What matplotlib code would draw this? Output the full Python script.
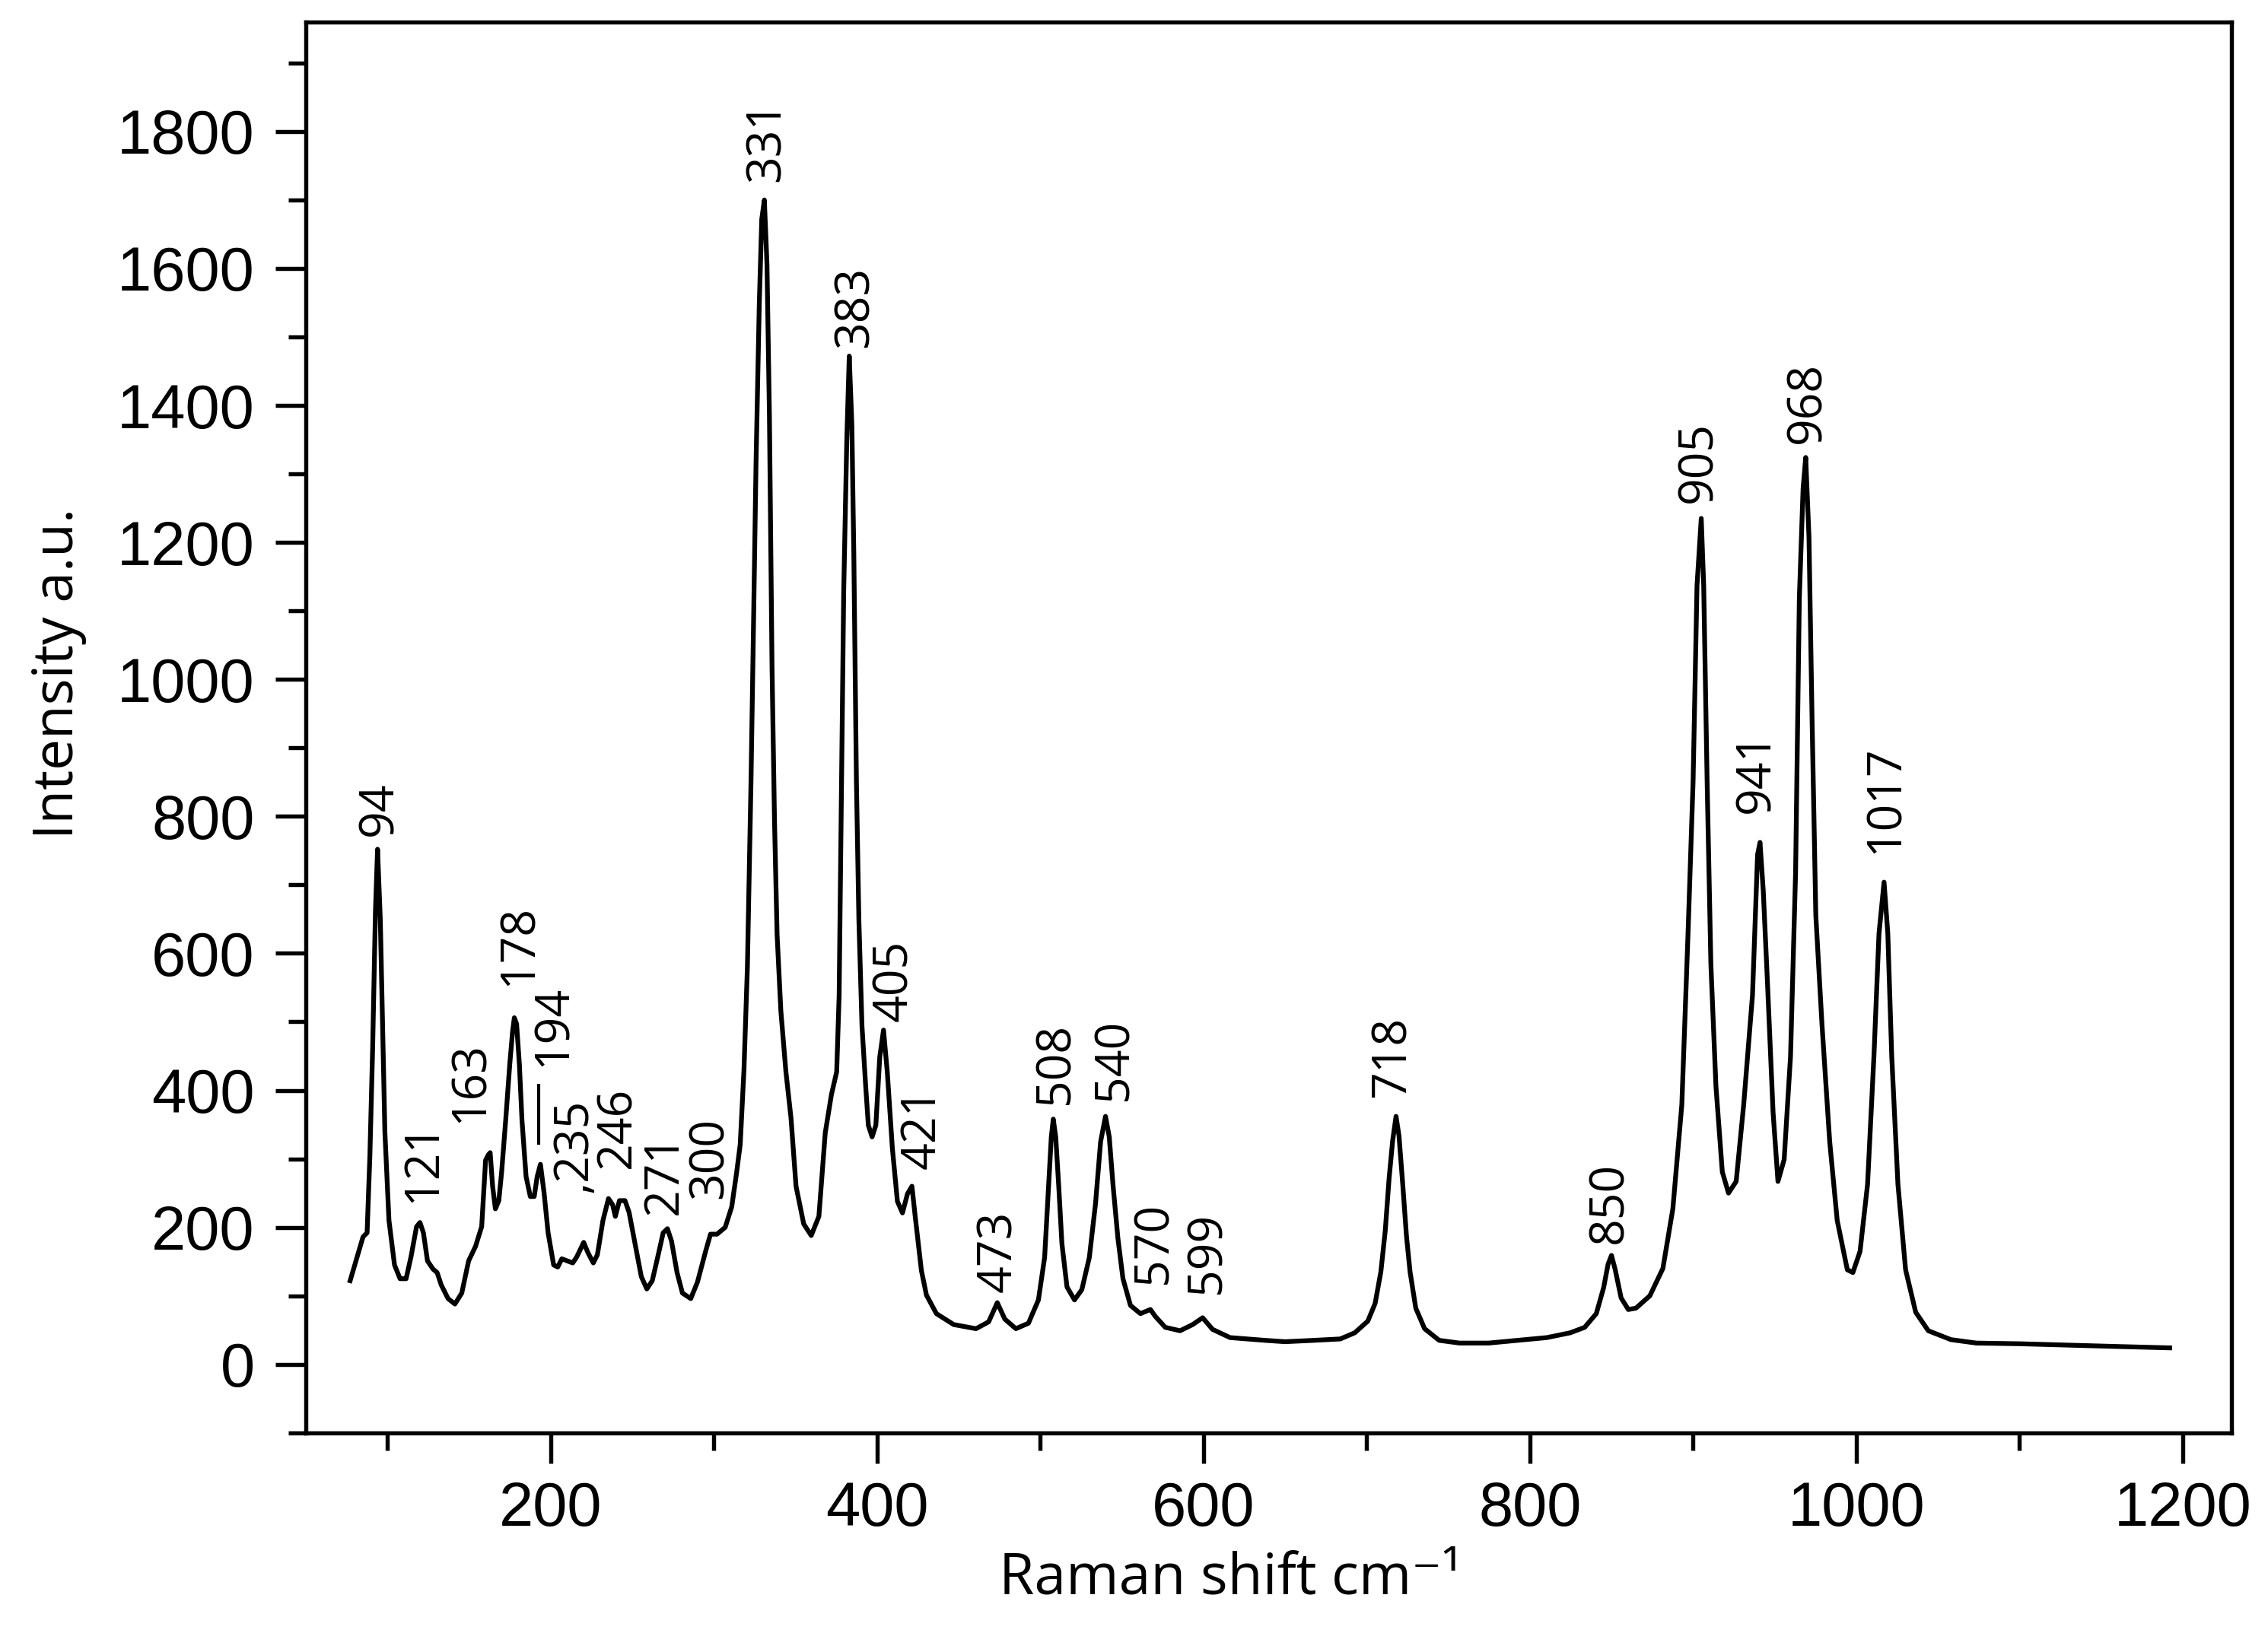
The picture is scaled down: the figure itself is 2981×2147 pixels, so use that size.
import matplotlib
matplotlib.use("Agg")
import matplotlib.pyplot as plt
from matplotlib.ticker import MultipleLocator

# ---- spectrum (Raman shift, intensity) ----
shift = [77.2, 85.1, 87.6, 89.3, 91.0, 92.7, 94.0, 95.7, 97.4, 98.5, 101.0, 104.4,
         107.8, 111.5, 114.5, 117.9, 120.0, 122.1, 124.6, 128.0, 130.5, 133.0, 137.2,
         141.4, 145.6, 149.8, 154.0, 157.8, 160.2, 161.9, 163.0, 164.5, 166.2, 168.3,
         170.0, 172.5, 175.0, 176.7, 177.8, 179.2, 180.9, 182.5, 185.0, 187.6, 190.0,
         191.8, 193.8, 196.0, 198.5, 201.9, 204.4, 206.9, 210.3, 213.6, 216.1, 220.3,
         222.9, 226.2, 228.7, 232.1, 235.5, 238.0, 239.7, 242.2, 245.6, 248.1, 252.3,
         255.6, 259.0, 262.3, 265.7, 269.0, 271.6, 274.1, 277.5, 280.8, 285.9, 290.0,
         295.0, 298.0, 302.0, 307.0, 311.0, 314.0, 316.2, 318.5, 320.6,
         322.8, 324.3, 325.9, 327.9, 329.4, 331.0, 332.6, 334.1, 335.7, 337.2, 338.8,
         341.1, 344.2, 347.3, 350.4, 355.1, 359.7, 364.4, 368.3, 372.1, 375.3, 376.8,
         378.0, 379.6, 381.5, 383.0, 384.6, 385.8, 387.4, 388.9, 390.8, 393.1, 394.7,
         397.0, 399.3, 401.7, 404.0, 406.3, 409.4, 412.5, 415.6, 418.7, 421.4, 423.4,
         427.2, 430.3, 436.4, 447.0, 460.7, 468.4, 473.7, 478.3, 485.1, 492.8, 498.9,
         502.7, 505.0, 506.8, 508.0, 509.5, 511.3, 513.3, 516.4, 521.0, 525.5, 530.1,
         533.9, 537.0, 540.0, 542.3, 544.6, 547.6, 550.7, 555.3, 561.4, 567.5, 570.5,
         576.6, 585.7, 593.4, 599.5, 605.6, 616.3, 637.6,
         650.0, 667.7, 683.8, 692.7, 700.7, 705.2, 708.7, 711.4, 713.7, 715.9, 718.0,
         719.8, 722.1, 724.4, 726.6, 730.1, 735.5, 744.4, 756.9, 774.7, 792.6, 810.4,
         824.7, 833.6, 840.7, 845.2, 847.9, 850.0, 852.3, 855.9, 860.3, 865.0, 873.5,
         881.5, 887.6, 893.1, 896.9, 900.0, 902.4, 905.0, 906.5, 908.6, 910.9, 914.0,
         917.9, 921.7, 926.4, 931.0, 936.4, 939.5, 941.0, 943.0, 945.5, 949.0, 952.0,
         955.8, 959.7, 962.8, 965.1, 967.4, 969.0, 971.0, 972.9, 975.2, 979.0, 983.7,
         988.3, 994.5, 997.9, 1002.3, 1006.9, 1010.8, 1013.9, 1017.0, 1019.3, 1021.7,
         1025.5, 1030.2, 1036.4, 1044.1, 1058.0, 1073.6, 1100.0, 1130.0, 1160.0, 1192.0]

intensity = [122, 186, 192, 304, 462, 661, 752, 649, 462, 339, 210, 145,
             125, 125, 157, 201, 207, 192, 151, 139, 134, 116, 96,
             88, 104, 151, 172, 201, 298, 306, 309, 260, 227, 239,
             280, 356, 438, 485, 506, 497, 438, 356, 274, 245, 245,
             274, 292, 251, 192, 145, 142, 154, 151, 148, 157, 178,
             163, 148, 160, 210, 242, 233, 216, 239, 239, 222, 169,
             128, 110, 122, 157, 192, 198, 180, 134, 104, 96, 120,
             165, 190, 190, 200, 230, 280, 321, 430, 580,
             850, 1072, 1317, 1550, 1672, 1700, 1606, 1384, 1016, 794, 627,
             516, 427, 360, 260, 205, 188, 216, 338, 394, 427, 538,
             794, 1128, 1350, 1472, 1372, 1183, 850, 649, 494, 405, 349,
             332, 349, 449, 488, 427, 316, 238, 221, 249, 260, 216,
             137, 101, 74, 58, 52, 62, 90, 66, 52, 60, 94,
             156, 254, 332, 358, 332, 262, 176, 113, 94, 109, 156,
             235, 325, 362, 332, 262, 184, 125, 86, 74, 80, 70,
             54, 49, 58, 68, 51, 39, 35,
             33, 35, 37, 46, 63, 89, 135, 195, 270, 326, 362,
             334, 263, 187, 135, 82, 52, 35, 31, 31, 35, 39,
             46, 54, 74, 112, 146, 159, 138, 97, 80, 82, 100,
             140, 227, 379, 629, 851, 1137, 1235, 1137, 851, 584, 406,
             281, 250, 267, 379, 539, 744, 762, 691, 561, 368, 267,
             299, 450, 718, 1119, 1279, 1324, 1208, 941, 655, 495, 325,
             210, 138, 134, 165, 263, 450, 629, 704, 629, 450,
             263, 138, 76, 49, 36, 31, 30, 28, 26, 24]

# ---- peak labels ----
peak_labels = ["94", "121", "163", "178", "194", ",235", "246", "271", "300", "331",
               "383", "405", "421", "473", "508", "540", "570", "599", "718", "850",
               "905", "941", "968", "1017"]
label_x = [95.5, 122, 151, 181, 202, 214.5, 241.3, 270, 297.6, 333,
           387, 411, 428, 474.8, 509.8, 545.6, 569.7, 602.5, 716, 849.1,
           903.5, 939, 970.5, 1018]
label_y = [772, 236, 353, 553, 435, 251, 286, 219, 242, 1726,
           1485, 500, 285, 105, 379, 385, 117, 103, 390, 176,
           1258, 805, 1345, 746]

# short vertical marker drawn beside the 194 label (annotation, not data)
marker_x = 192.6
marker_span = (321, 409)

x_major = [200, 400, 600, 800, 1000, 1200]
y_major = [0, 200, 400, 600, 800, 1000, 1200, 1400, 1600, 1800]

LABEL_FONT = ["Open Sans", "DejaVu Sans"]
TICK_FONT = ["Liberation Sans", "DejaVu Sans"]

fig = plt.figure(figsize=(2981 / 300, 2147 / 300), dpi=300)
ax = fig.add_axes([0.1348, 0.1226, 0.984 - 0.1348, 0.9866 - 0.1226])

ax.plot(shift, intensity, color="black", lw=1.5, solid_joinstyle="round")

ax.set_xlim(50, 1230)
ax.set_ylim(-100, 1960)
ax.set_xticks(x_major)
ax.set_yticks(y_major)
ax.xaxis.set_minor_locator(MultipleLocator(100))
ax.yaxis.set_minor_locator(MultipleLocator(100))

for sp in ax.spines.values():
    sp.set_linewidth(1.3)
ax.tick_params(which="major", direction="out", length=9.6, width=1.3, pad=5.5)
ax.tick_params(which="minor", direction="out", length=5.5, width=1.3)
ax.tick_params(axis="y", which="major", pad=6.5)
for lab in ax.get_xticklabels() + ax.get_yticklabels():
    lab.set_family(TICK_FONT)
    lab.set_fontsize(19.5)

for t, x, y in zip(peak_labels, label_x, label_y):
    ax.text(x, y, t, rotation=90, ha="center", va="bottom",
            fontsize=15, family=LABEL_FONT)
ax.vlines(marker_x, marker_span[0], marker_span[1], color="black", lw=1.0)

fig.text(0.5424, 0.0238, "Raman shift cm\u207b\u00b9", ha="center", va="baseline",
         fontsize=18, family=LABEL_FONT)
fig.text(0.0258, 0.5878, "Intensity a.u.", rotation=90, ha="center", va="center",
         fontsize=17.5, family=LABEL_FONT)

fig.savefig("out.png", dpi=300)
